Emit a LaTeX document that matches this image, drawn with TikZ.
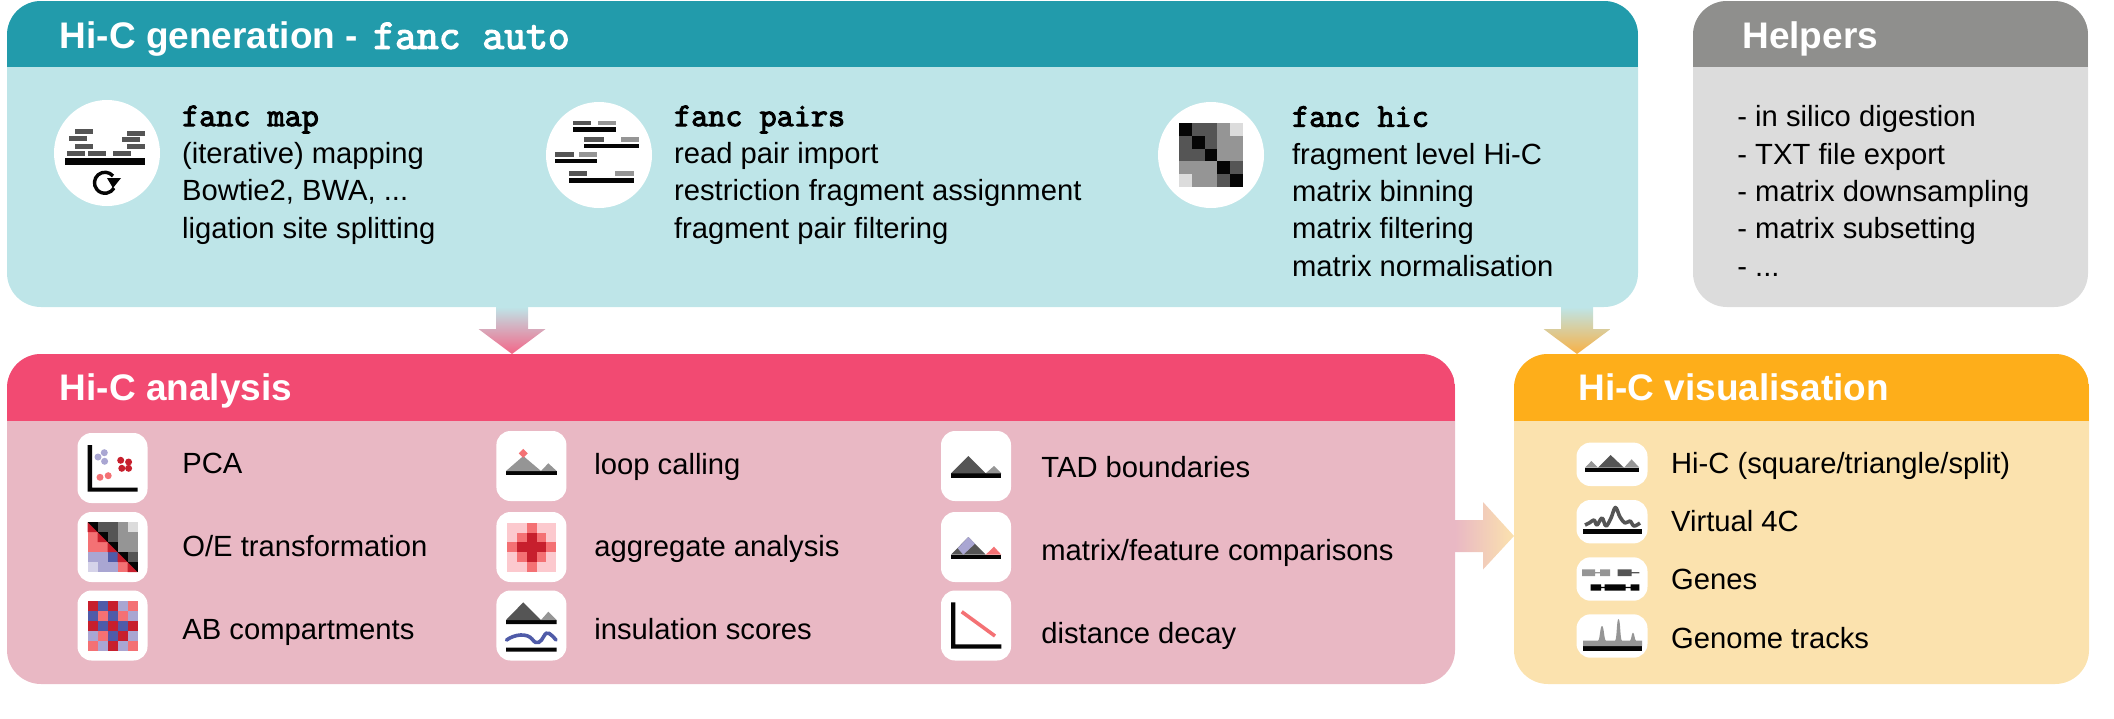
\documentclass[tikz,border=0pt]{standalone}
\usepackage{fontspec}
\setmainfont{Liberation Sans}
\newfontfamily\cmdfont[FakeBold=3]{Latin Modern Mono}
\usepackage{tikz}

\definecolor{genhead}{HTML}{229BAB}
\definecolor{genbody}{HTML}{BEE5E8}
\definecolor{helphead}{HTML}{8F8F8D}
\definecolor{helpbody}{HTML}{DCDCDC}
\definecolor{anahead}{HTML}{F24A72}
\definecolor{anabody}{HTML}{E9B8C4}
\definecolor{vishead}{HTML}{FEAE1A}
\definecolor{visbody}{HTML}{FBE2AE}
\definecolor{gk}{HTML}{050505}
\definecolor{gd}{HTML}{555555}
\definecolor{gm}{HTML}{959595}
\definecolor{gl}{HTML}{DCDCDC}
\definecolor{rd}{HTML}{C71F2D}
\definecolor{sa}{HTML}{F47174}
\definecolor{pk}{HTML}{FCC9CE}
\definecolor{bl}{HTML}{4F5BA8}
\definecolor{pu}{HTML}{A9A6D2}
\definecolor{lv}{HTML}{D5D3E9}

\tikzset{
    panelbody/.style={rectangle, rounded corners=17pt, inner sep=0pt},
    title/.style={anchor=base west, inner sep=0pt, text=white, font=\fontsize{18.5}{22}\selectfont\bfseries},
    lines/.style={anchor=base west, inner sep=0pt, align=left, font=\fontsize{14.6}{18.7}\selectfont},
    entry/.style={anchor=base west, inner sep=0pt, font=\fontsize{14.6}{18.7}\selectfont},
    disc/.style={circle, fill=white, inner sep=0pt, minimum size=53pt},
    tile/.style={rectangle, fill=white, rounded corners=7pt, inner sep=0pt, minimum size=35pt},
    wtile/.style={rectangle, fill=white, rounded corners=7pt, inner sep=0pt, minimum width=35.5pt, minimum height=21.7pt}
}

\newcommand{\cmdname}[1]{{\cmdfont\fontsize{16.6}{18.7}\selectfont #1}}
\newcommand{\panelhead}[5]{
    \begin{scope}
        \clip[rounded corners=17pt] (#1,#2) rectangle (#4,#3+100);
        \fill[#5] (#1,#2) rectangle (#4,#3);
    \end{scope}
}
\newcommand{\cellgrid}[4]{
    \foreach \cc [count=\i from 0] in {#4} {
        \pgfmathtruncatemacro{\col}{mod(\i,5)}
        \pgfmathtruncatemacro{\row}{int(\i/5)}
        \fill[\cc] ({#1+\col*#3},{#2+\row*#3}) rectangle ++(#3,#3);
    }
}
\newcommand{\blockdown}[3]{
    \shade[top color=genbody, bottom color=#3] (#1) ++(-16,0) -- ++(0,22) -- ++(-17.5,0) -- (#2) -- ++(33.5,-25) -- ++(-17.5,0) -- ++(0,-22) -- cycle;
}

\begin{document}
\begin{tikzpicture}[x=0.5pt, y=-0.5pt]
    \useasboundingbox (0,0) rectangle (2114,718);

    \node[panelbody, fill=genbody, minimum width=815.5pt, minimum height=153pt] (gen) at (822.5,154) {};
    \node[panelbody, fill=helpbody, minimum width=197.5pt, minimum height=153pt] (help) at (1890.5,154) {};
    \node[panelbody, fill=anabody, minimum width=724pt, minimum height=165pt] (ana) at (731,519) {};
    \node[panelbody, fill=visbody, minimum width=287.5pt, minimum height=165pt] (vis) at (1801.5,519) {};
    \panelhead{7}{1}{67}{1638}{genhead}
    \panelhead{1693}{1}{67}{2088}{helphead}
    \panelhead{7}{354}{421}{1455}{anahead}
    \panelhead{1514}{354}{421}{2089}{vishead}

    \node[title] (gentitle) at (59.5,48.8) {Hi-C generation - \hskip2.5pt{\cmdfont\fontsize{21.2}{22}\selectfont fanc auto}};
    \node[title] (helptitle) at (1742,48.8) {Helpers};
    \node[title] (anatitle) at (59.5,400.3) {Hi-C analysis};
    \node[title] (vistitle) at (1578,400.3) {Hi-C visualisation};

    \coordinate (genoutA) at (512,307);
    \coordinate (anain) at (512,354);
    \coordinate (genoutB) at (1577,307);
    \coordinate (visinA) at (1577,354);
    \coordinate (anaout) at (1455,536);
    \coordinate (visinB) at (1514,536);
    \blockdown{genoutA}{anain}{anahead!85!white}
    \blockdown{genoutB}{visinA}{vishead!75!anabody}
    \shade[left color=anabody, right color=visbody] (anaout) ++(0,-16) -- ++(28,0) -- ++(0,-18) -- (visinB) -- ++(-31,33.5) -- ++(0,-17.5) -- ++(-28,0) -- cycle;

    \node[disc] (mapicon) at (107,153) {};
    \node[disc] (pairsicon) at (599,155) {};
    \node[disc] (hicicon) at (1211,155) {};

    \node[lines] (maptext) at (181.7,238.3) {\cmdname{fanc map}\\(iterative) mapping\\Bowtie2, BWA, ...\\ligation site splitting};
    \node[lines] (pairstext) at (673.7,238.3) {\cmdname{fanc pairs}\\read pair import\\restriction fragment assignment\\fragment pair filtering};
    \node[lines] (hictext) at (1291.7,276.3) {\cmdname{fanc hic}\\fragment level Hi-C\\matrix binning\\matrix filtering\\matrix normalisation};
    \node[lines] (helptext) at (1737,276.3) {- in silico digestion\\- TXT file export\\- matrix downsampling\\- matrix subsetting\\- ...};

    \fill[gk] (65,158) rectangle (145,165);
    \foreach \xa/\ya in {75/129,127/131,69/136,122/137,75/144,127/144,67/151,88/151,113/151}
        \fill[gd] (\xa,\ya) rectangle ++(18,4.5);
    \draw[line width=1.7pt, gk] (113,176) arc (-40:-330:10.5);
    \fill[gk] (107,178) -- (121,178) -- (113,188) -- cycle;

    \foreach \xa/\xb/\xc/\xd/\ya in {572.5/591/597.5/616/120.7,584/604/620.5/639/137,555/573.6/578.7/597/152,569/587.3/615.4/634/171.3} {
        \fill[gd] (\xa,\ya) rectangle (\xb,\ya+4.5);
        \fill[gm] (\xc,\ya) rectangle (\xd,\ya+4.5);
        \fill[gk] (\xa,\ya+6.5) rectangle (\xd,\ya+11.3);
    }
    \cellgrid{1179}{123}{12.8}{gk,gd,gd,gm,gl,gd,gk,gd,gm,gm,gd,gd,gk,gm,gm,gm,gm,gm,gk,gd,gl,gm,gm,gd,gk}

    \node[tile] (pcatile) at (112.5,468) {};
    \node[tile] (oetile) at (112.5,547) {};
    \node[tile] (abtile) at (112.5,625.5) {};
    \node[tile] (looptile) at (531.4,466) {};
    \node[tile] (aggtile) at (531.4,547) {};
    \node[tile] (instile) at (531.4,625.5) {};
    \node[tile] (tadtile) at (976,466) {};
    \node[tile] (cmptile) at (976,547) {};
    \node[tile] (decaytile) at (976,625.5) {};

    \fill[gk] (87.5,445) rectangle (92,491.7) (87.5,487.7) rectangle (137.5,491.7);
    \foreach \xa/\ya/\cc in {98/457/pu,104.3/452.7/pu,104.6/461.3/pu,120.7/460.3/rd,128.6/462/rd,121.8/468.3/rd,128.6/468.3/rd,100/477.3/sa,108.2/475.7/sa}
        \fill[\cc] (\xa,\ya) circle (1.75pt);

    \cellgrid{87.5}{522}{10}{gk,gd,gd,gm,gl,sa,gk,gd,gm,gm,sa,sa,gk,gm,gm,pu,pu,bl,gk,gd,lv,pu,pu,sa,gk}
    \foreach \i in {0,...,4}
        \fill[rd] ({87.5+\i*10},{522+\i*10}) -- ++(0,10) -- ++(10,0) -- cycle;
    \cellgrid{87.5}{601}{10}{rd,bl,rd,pu,sa,bl,sa,bl,sa,pu,rd,bl,rd,bl,rd,pu,sa,bl,rd,pu,sa,pu,rd,pu,sa}

    \fill[gk] (506,471) rectangle (556.7,475.3);
    \fill[gm] (506,471) -- (523.3,456) -- (541,471) -- (548.3,463.3) -- (556.7,471) -- cycle;
    \fill[sa] (523.3,448.8) -- (527.8,453.3) -- (523.3,457.8) -- (518.8,453.3) -- cycle;

    \cellgrid{507}{522.7}{9.87}{pk,pk,sa,pk,pk,pk,sa,rd,sa,pk,sa,rd,rd,rd,sa,pk,sa,rd,sa,pk,pk,pk,sa,pk,pk}

    \fill[gk] (506,620) rectangle (556.7,624) (506,647.7) rectangle (556.7,651.7);
    \fill[gd] (506,620) -- (523.3,602.3) -- (541,620) -- cycle;
    \fill[gm] (541,620) -- (548.3,611.7) -- (556.7,620) -- cycle;
    \draw[bl, line width=1.8pt, line cap=round] (506.5,640) .. controls (515,634) and (527,633) .. (532,639) .. controls (537,646) and (541,642) .. (544,636) .. controls (547,630) and (551,634) .. (556,640);

    \fill[gk] (951,473.3) rectangle (1001.3,477.7);
    \fill[gd] (951,473.3) -- (968.3,456) -- (985.7,473.3) -- cycle;
    \fill[gm] (985.7,473.3) -- (994,466) -- (1001.3,473.3) -- cycle;

    \fill[gk] (951,554.7) rectangle (1001.3,559);
    \fill[gd] (951,554.7) -- (968.3,537) -- (985.7,554.7) -- cycle;
    \fill[pu] (968.3,537) -- (957.7,548.3) -- (963.3,554.7) -- (975,543.7) -- cycle;
    \fill[sa] (985.7,554.7) -- (994,546.7) -- (1001.3,554.7) -- cycle;

    \fill[gk] (951,602.3) rectangle (955.3,648.7) (951,644.3) rectangle (1001.3,648.7);
    \draw[sa, line width=1.8pt] (961.7,611.7) -- (995,636);

    \node[entry] (pca) at (182,473.3) {PCA};
    \node[entry] (oe) at (182,556.3) {O/E transformation};
    \node[entry] (ab) at (182,639.3) {AB compartments};
    \node[entry] (loop) at (594,474.3) {loop calling};
    \node[entry] (agg) at (594,556.3) {aggregate analysis};
    \node[entry] (ins) at (594,639.3) {insulation scores};
    \node[entry] (tad) at (1041,477) {TAD boundaries};
    \node[entry] (cmp) at (1041,560) {matrix/feature comparisons};
    \node[entry] (decay) at (1041,643) {distance decay};

    \node[wtile] (hictile) at (1612,464.3) {};
    \node[wtile] (fourctile) at (1612,521.7) {};
    \node[wtile] (genestile) at (1612,579) {};
    \node[wtile] (trackstile) at (1612,636) {};

    \fill[gk] (1585,467.7) rectangle (1639.4,472.3);
    \fill[gm] (1585,467.7) -- (1591.4,461) -- (1598,467.7) -- cycle (1624,467.7) -- (1631.6,459.3) -- (1639.4,467.7) -- cycle;
    \fill[gd] (1598,467.7) -- (1610.6,455) -- (1624,467.7) -- cycle;

    \fill[gk] (1583,529.3) rectangle (1642,534);
    \draw[gd, line width=1.8pt, line join=round] plot[smooth, tension=0.6] coordinates {(1585,525) (1590,522.5) (1594,520) (1597,525) (1602,518) (1606,526) (1611,518) (1615.4,507.5) (1620,517) (1625,523) (1630,521) (1634,526) (1640,523)};

    \fill[gm] (1582,569.3) rectangle (1595,576) (1600,569.3) rectangle (1610,576) (1595,572) rectangle (1600,573.3);
    \fill[gd] (1617.6,569.3) rectangle (1631.6,576) (1631.6,572) rectangle (1639.4,573.3);
    \fill[gk] (1590.6,584.3) rectangle (1601,590.7) (1604.5,584.3) rectangle (1625.5,590.7) (1630.7,584.3) rectangle (1639.4,590.7) (1601,586.8) rectangle (1630.7,588.2);

    \fill[gk] (1583,646) rectangle (1642,650.7);
    \fill[gm] (1583,646) -- (1583,640.7) -- (1598,640.7) .. controls (1600,640) and (1600,626) .. (1602,626) .. controls (1604,626) and (1604,640) .. (1606,640.7) -- (1615,640.7) .. controls (1617,640) and (1616.5,619) .. (1618.5,619) .. controls (1620.5,619) and (1620,640) .. (1622,640.7) -- (1630,640.7) .. controls (1631.5,640) and (1631.5,632.7) .. (1633,632.7) .. controls (1634.5,632.7) and (1634.5,640) .. (1636,640.7) -- (1642,640.7) -- (1642,646) -- cycle;

    \node[entry] (hicview) at (1670.7,473) {Hi-C (square/triangle/split)};
    \node[entry] (fourc) at (1670.7,531.3) {Virtual 4C};
    \node[entry] (genes) at (1670.7,589.3) {Genes};
    \node[entry] (tracks) at (1670.7,648.3) {Genome tracks};
\end{tikzpicture}
\end{document}
